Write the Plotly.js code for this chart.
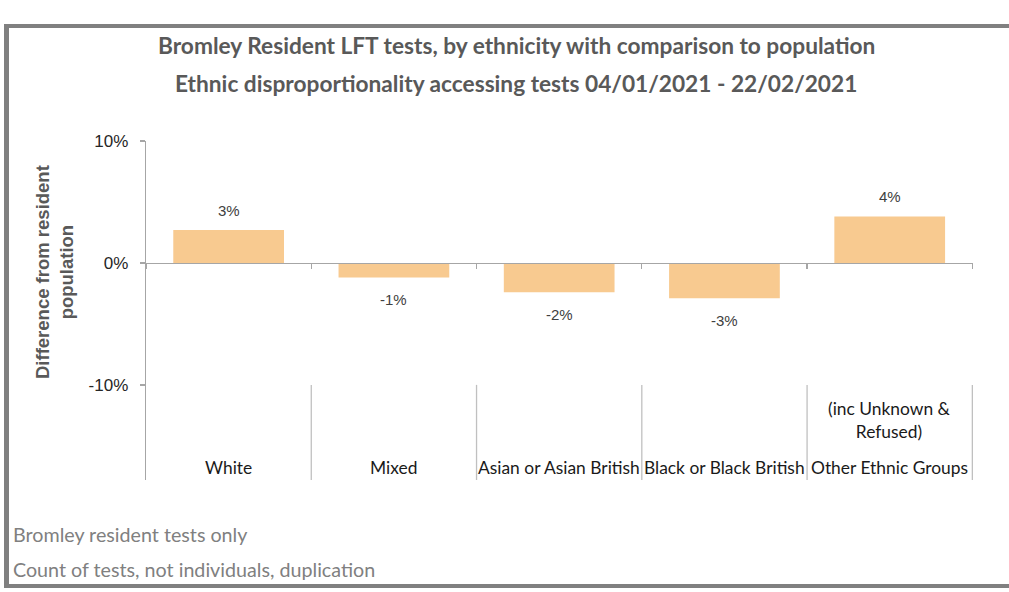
<!DOCTYPE html>
<html>
<head>
<meta charset="utf-8">
<script src="https://cdn.plot.ly/plotly-3.0.1.min.js"></script>
<style>
  html, body { margin: 0; padding: 0; width: 1009px; height: 592px; overflow: hidden; background: #fff; }
  #chart { position: absolute; left: 0; top: 0; width: 1009px; height: 592px; }
  #frame { position: absolute; left: 4px; top: 24px; width: 1100px; height: 564px; box-sizing: border-box;
           border-top: 4px solid #808080; border-left: 5px solid #808080; border-bottom: 4px solid #808080; pointer-events: none; }
</style>
</head>
<body>
<div id="chart"></div>
<div id="frame"></div>
<script>
// ---- data ----
const categories = ['White', 'Mixed', 'Asian or Asian British', 'Black or Black British', 'Other Ethnic Groups'];
const subLabels = ['', '', '', '', '(inc Unknown &<br>Refused)'];
const differences = [0.027, -0.012, -0.024, -0.029, 0.038];
const yTickVals = [-0.10, 0, 0.10];
const yTickText = ['-10%', '0%', '10%'];
const titleLines = ['Bromley Resident LFT tests, by ethnicity with comparison to population',
                    'Ethnic disproportionality accessing tests 04/01/2021 - 22/02/2021'];
const yTitle = 'Difference from resident<br>population';
const footnotes = ['Bromley resident tests only', 'Count of tests, not individuals, duplication'];

// ---- geometry helpers ----
const W = 1009, H = 592;
const M = { l: 146, r: 36, t: 141, b: 112 };
const plotW = W - M.l - M.r, plotH = H - M.t - M.b;
const px = x => (x - M.l) / plotW;
const py = y => (H - M.b - y) / plotH;
const yRange = [-0.178, 0.10];
const zeroPos = (0 - yRange[0]) / (yRange[1] - yRange[0]);

const calibri = 'Lato, sans-serif';
const arial = 'Liberation Sans, Arial, sans-serif';

const trace = {
  type: 'bar',
  x: categories,
  y: differences,
  marker: { color: '#F8CA90', line: { width: 0 } },
  hoverinfo: 'x+y',
  cliponaxis: false
};

const annotations = [];
// titles
titleLines.forEach((t, i) => annotations.push({
  text: t, xref: 'paper', yref: 'paper', x: px(516), y: py(i === 0 ? 46 : 84),
  xanchor: 'center', yanchor: 'middle', showarrow: false,
  font: { family: calibri, size: 22.7, color: '#595959', weight: 'bold' }
}));
// y title
annotations.push({
  text: yTitle, xref: 'paper', yref: 'paper', x: px(54), y: py(272),
  xanchor: 'center', yanchor: 'middle', showarrow: false, textangle: -90,
  font: { family: arial, size: 18.5, color: '#595959', weight: 'bold' }
});
// data labels
differences.forEach((v, i) => annotations.push({
  text: Math.round(v * 100) + '%', xref: 'x', yref: 'y', x: categories[i], y: v,
  xanchor: 'center', yanchor: 'middle', showarrow: false, yshift: v >= 0 ? 20 : -22,
  font: { family: arial, size: 15, color: '#404040' }
}));
// category labels
categories.forEach((c, i) => {
  annotations.push({
    text: c, xref: 'x', yref: 'paper', x: c, y: py(467),
    xanchor: 'center', yanchor: 'middle', showarrow: false,
    font: { family: calibri, size: 17.4, color: '#1a1a1a' }
  });
  if (subLabels[i]) annotations.push({
    text: subLabels[i], xref: 'x', yref: 'paper', x: c, y: py(420),
    xanchor: 'center', yanchor: 'middle', showarrow: false,
    font: { family: calibri, size: 17.4, color: '#1a1a1a' }
  });
});
// footnotes
footnotes.forEach((f, i) => annotations.push({
  text: f, xref: 'paper', yref: 'paper', x: px(11), y: py(i === 0 ? 534 : 569),
  xanchor: 'left', yanchor: 'middle', showarrow: false,
  font: { family: calibri, size: 19.7, color: '#808080' }
}));

// category dividers (low label area)
const shapes = [];
for (let i = 0; i < categories.length; i++) {
  shapes.push({
    type: 'line', xref: 'x', yref: 'y', x0: i + 0.5, x1: i + 0.5, y0: yTickVals[0], y1: yRange[0],
    line: { color: '#c0c0c0', width: 1.3 }
  });
}

const layout = {
  width: W, height: H,
  margin: M,
  paper_bgcolor: '#fff', plot_bgcolor: '#fff',
  showlegend: false,
  bargap: 0.33,
  xaxis: {
    type: 'category', anchor: 'free', position: zeroPos,
    showline: true, linecolor: '#a6a6a6', linewidth: 1.3,
    ticks: 'outside', tickson: 'boundaries', ticklen: 5, tickcolor: '#a6a6a6', tickwidth: 1.3,
    showticklabels: false, showgrid: false, zeroline: false, fixedrange: true
  },
  yaxis: {
    range: yRange, tickvals: yTickVals, ticktext: yTickText,
    showline: true, linecolor: '#a6a6a6', linewidth: 1.3,
    ticks: 'outside', ticklen: 5, tickcolor: '#a6a6a6', tickwidth: 1.3,
    ticklabelstandoff: 8,
    showgrid: false, zeroline: false,
    tickfont: { family: arial, size: 17, color: '#262626' }, fixedrange: true
  },
  annotations: annotations,
  shapes: shapes
};

Plotly.newPlot('chart', [trace], layout, { displayModeBar: false, staticPlot: true });
</script>
</body>
</html>
